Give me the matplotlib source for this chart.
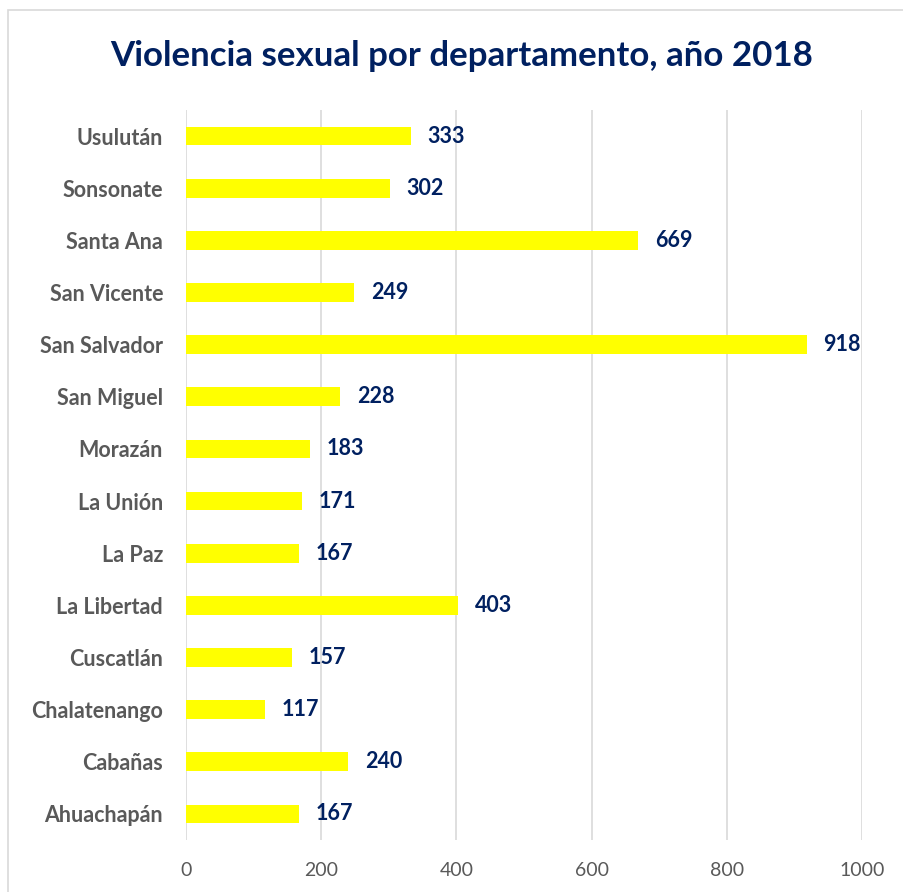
import matplotlib
matplotlib.use("Agg")
import matplotlib.pyplot as plt
from matplotlib.patches import Rectangle

categories = ["Usulután", "Sonsonate", "Santa Ana", "San Vicente", "San Salvador",
              "San Miguel", "Morazán", "La Unión", "La Paz", "La Libertad",
              "Cuscatlán", "Chalatenango", "Cabañas", "Ahuachapán"]
values = [333, 302, 669, 249, 918, 228, 183, 171, 167, 403, 157, 117, 240, 167]
xticks = [0, 200, 400, 600, 800, 1000]

plt.rcParams['font.family'] = ['Lato', 'DejaVu Sans']

W, H = 904, 892
fig = plt.figure(figsize=(W/100, H/100), dpi=100)
fig.patch.set_facecolor("white")

# chart border
fig.add_artist(Rectangle((8/W, -0.05), 1.2, 1 - 10/H + 0.05, transform=fig.transFigure,
                         fill=False, edgecolor="#D9D9D9", linewidth=1.2))

ax = fig.add_axes([186/W, 1 - 840/H, (862-186)/W, (840-110)/H])
ypos = list(range(len(categories)))
ax.barh(ypos, values, height=0.36, color="#FFFF00", zorder=3)
ax.set_ylim(len(categories) - 0.5, -0.5)
ax.set_xlim(0, 1000)
ax.set_xticks(xticks)
ax.set_xticklabels([str(t) for t in xticks], color="#595959", fontsize=14)
ax.set_yticks(ypos)
ax.set_yticklabels(categories, color="#595959", fontsize=15.5, fontweight="bold")
ax.tick_params(axis="both", length=0)
ax.tick_params(axis="y", pad=16.5)
ax.tick_params(axis="x", pad=16)
ax.grid(axis="x", color="#D9D9D9", linewidth=1.2, zorder=0)
for s in ax.spines.values():
    s.set_visible(False)

for y, v in zip(ypos, values):
    ax.annotate(str(v), (v, y), xytext=(12, 0), textcoords="offset points",
                va="center", ha="left", fontsize=15.5, fontweight="bold", color="#002060")

fig.text(462/W, 1 - 56/H, "Violencia sexual por departamento, año 2018", ha="center", va="center",
         fontsize=25.1, fontweight="bold", color="#002060")

fig.savefig("out.png", dpi=100)
